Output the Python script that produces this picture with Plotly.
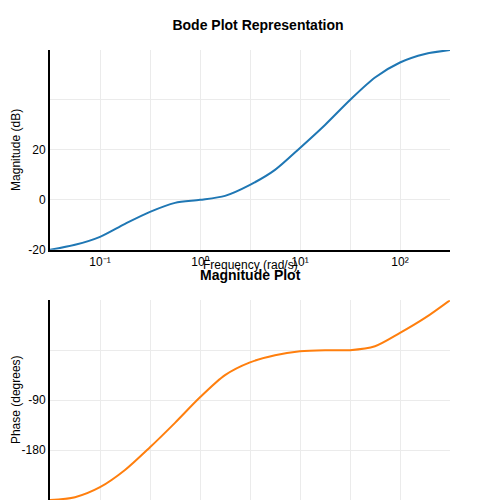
import plotly.graph_objects as go

# log10 of frequency, read at steps of 0.25 decade
log_freq = [-1.5, -1.25, -1.0, -0.75, -0.5, -0.25, 0.0, 0.25, 0.5, 0.75, 1.0, 1.25, 1.5, 1.75, 2.0, 2.25, 2.5]
magnitude = [-20, -18, -14.8, -9.6, -4.8, -1.2, 0, 1.6, 6, 12, 20.8, 30, 40, 49, 55, 58.4, 60]
phase = [-270, -265, -247, -216, -175, -131, -85, -45, -22, -9, -2, 0, 0, 7, 31, 58, 90]

freq = [10 ** v for v in log_freq]
x_tickvals = [10 ** v for v in [-1.5, -1, -0.5, 0, 0.5, 1, 1.5, 2, 2.5]]
x_ticktext = ['', '10⁻¹', '', '10⁰', '', '10¹', '', '10²', '']
mag_ticks = [-20, 0, 20, 40, 60]
mag_labels = ['-20', '0', '20', '', '']
phase_ticks = [-270, -180, -90, 0, 90]
phase_labels = ['', '-180', '-90', '', '']

fig = go.Figure()
fig.add_trace(go.Scatter(x=freq, y=magnitude, mode='lines', line=dict(color='#1f77b4', width=2, shape='spline', smoothing=0.8),
                         xaxis='x', yaxis='y', showlegend=False))
fig.add_trace(go.Scatter(x=freq, y=phase, mode='lines', line=dict(color='#ff7f0e', width=2, shape='spline', smoothing=0.8),
                         xaxis='x2', yaxis='y2', showlegend=False))

axis_style = dict(showline=True, linecolor='black', linewidth=2, gridcolor='#ebebeb', zeroline=False, ticks='')

fig.update_layout(
    width=500, height=560,
    margin=dict(l=42, r=58, t=42, b=68),
    plot_bgcolor='white', paper_bgcolor='white',
    font=dict(family='Liberation Sans, Arial', size=12, color='black'),
    title=dict(text='<b>Bode Plot Representation</b>', x=0.5, y=1 - 17 / 560, xanchor='center', yanchor='middle',
               font=dict(size=14)),
    xaxis=dict(type='log', domain=[0, 1], anchor='y', range=[-1.5, 2.5], tickvals=x_tickvals, ticktext=x_ticktext,
               **axis_style),
    yaxis=dict(domain=[0.556, 1], anchor='x', range=[-20, 60], tickvals=mag_ticks, ticktext=mag_labels,
               **axis_style),
    xaxis2=dict(type='log', domain=[0, 1], anchor='y2', range=[-1.5, 2.5], tickvals=x_tickvals, ticktext=x_ticktext,
                **axis_style),
    yaxis2=dict(domain=[0, 0.444], anchor='x2', range=[-270, 90], tickvals=phase_ticks, ticktext=phase_labels,
                **axis_style),
    annotations=[
        dict(text='<b>Magnitude Plot</b>', x=0.5, y=0.5, xref='paper', yref='paper', yanchor='middle',
             showarrow=False, font=dict(size=14)),
        dict(text='Frequency (rad/s)', x=0.5, y=0.522, xref='paper', yref='paper', yanchor='middle',
             showarrow=False),
        dict(text='Magnitude (dB)', x=-0.085, y=0.778, xref='paper', yref='paper', textangle=-90,
             xanchor='center', yanchor='middle', showarrow=False),
        dict(text='Phase (degrees)', x=-0.085, y=0.222, xref='paper', yref='paper', textangle=-90,
             xanchor='center', yanchor='middle', showarrow=False),
    ],
)

fig.write_html("out.html")
